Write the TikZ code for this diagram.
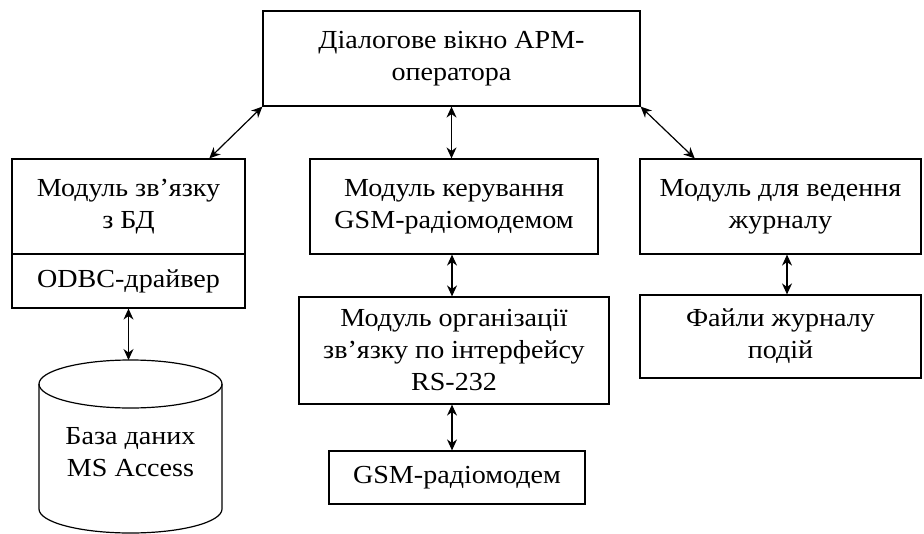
\documentclass[tikz,border=0pt]{standalone}
\usepackage{fontspec}
\setmainfont{Liberation Serif}[FakeStretch=1.08]
\usepackage{tikz}
\usetikzlibrary{arrows, arrows.meta, calc}
\tikzset{>={Stealth[length=5.5pt, width=5pt]}}

\begin{document}
\begin{tikzpicture}[x=0.5pt, y=-0.5pt, font=\fontsize{13}{16}\selectfont,
    box/.style={draw, line width=0.6pt, align=center, inner sep=0pt},
    link/.style={<->, line width=0.6pt}]
    \useasboundingbox (0,0) rectangle (924,534);
    \node [box, minimum width=188.5pt, minimum height=47.5pt] (arm) at (451.5,58.5) {Діалогове вікно АРМ-\\оператора};
    \node [box, minimum width=116.5pt, minimum height=47.5pt] (bd) at (128.5,206.5) {Модуль зв’язку\\з БД};
    \node [box, minimum width=116.5pt, minimum height=27pt] (odbc) at (128.5,281) {ODBC-драйвер};
    \node [box, minimum width=144pt, minimum height=47.5pt] (gsm) at (454,206.5) {Модуль керування\\GSM-радіомодемом};
    \node [box, minimum width=140.5pt, minimum height=47.5pt] (jour) at (780.5,206.5) {Модуль для ведення\\журналу};
    \node [box, minimum width=155pt, minimum height=53.5pt] (rs) at (454,350.5) {Модуль організації\\зв’язку по інтерфейсу\\RS-232};
    \node [box, minimum width=128pt, minimum height=26.5pt] (modem) at (457,477.5) {GSM-радіомодем};
    \node [box, minimum width=140.5pt, minimum height=41.5pt] (files) at (780.5,336.5) {Файли журналу\\подій};
    % database
    \draw [line width=0.6pt] (39,384) -- (39,509) arc [start angle=180, end angle=360, x radius=45.75pt, y radius=12pt] -- (222,384);
    \draw [line width=0.6pt] (130.5,384) ellipse [x radius=45.75pt, y radius=12pt];
    \coordinate (dbtop) at (130.5,360);
    \node [align=center] (db) at (130.5,452) {База даних\\MS Access};
    % links
    \draw [link] (arm.south west) -- ($(bd.north west)!0.845!(bd.north east)$);
    \draw [link] (arm.south) -- (arm.south |- gsm.north);
    \draw [link] (arm.south east) -- ($(jour.north west)!0.196!(jour.north east)$);
    \draw [link] ($(gsm.south)+(-2,0)$) -- ($(gsm.south |- rs.north)+(-2,0)$);
    \draw [link] ($(rs.south)+(-2,0)$) -- ($(rs.south |- modem.north)+(-2,0)$);
    \draw [link] ($(jour.south)+(6.5,0)$) -- ($(jour.south |- files.north)+(6.5,0)$);
    \draw [link] (odbc.south) -- (odbc.south |- dbtop);
\end{tikzpicture}
\end{document}
